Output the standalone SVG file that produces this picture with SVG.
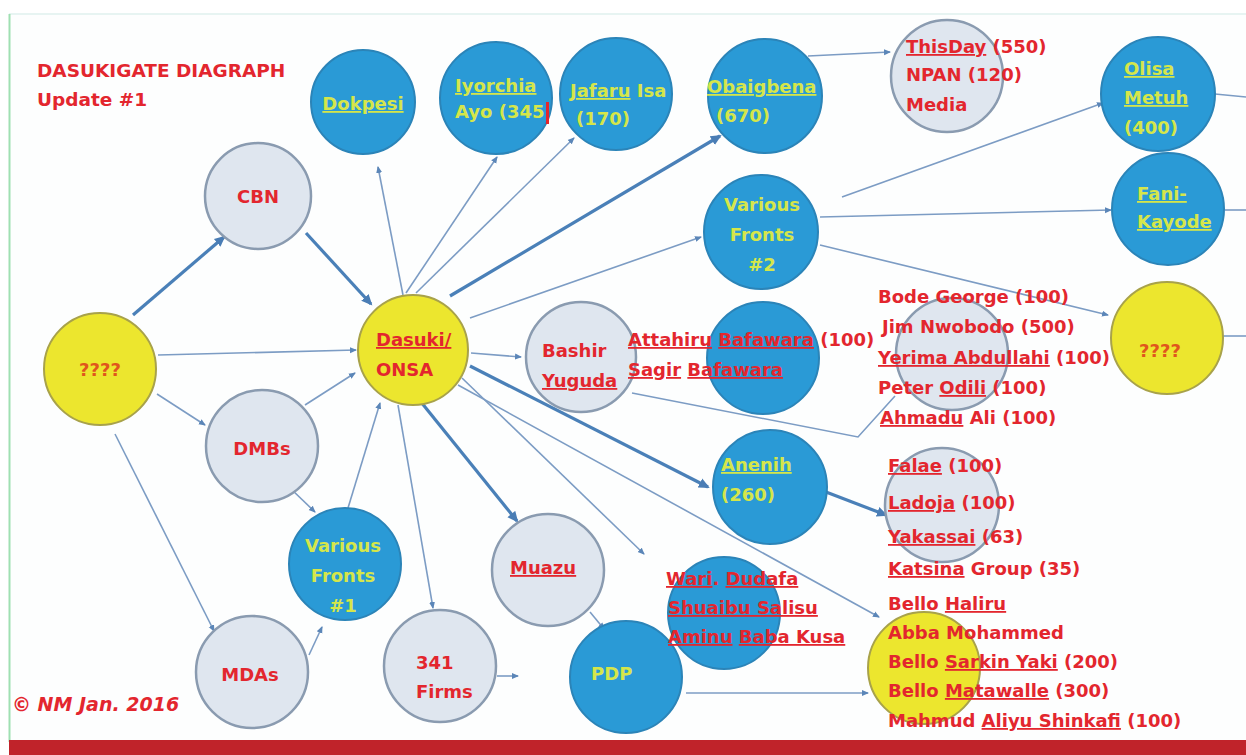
<svg xmlns="http://www.w3.org/2000/svg" width="1246" height="755" viewBox="0 0 1246 755">
<defs>
<marker id="ah" markerWidth="8" markerHeight="8" refX="6" refY="4" orient="auto" markerUnits="userSpaceOnUse">
<path d="M0,1 L7,4 L0,7 Z" fill="#5b86b8"/>
</marker>
<marker id="ahb" markerWidth="12" markerHeight="12" refX="9" refY="6" orient="auto" markerUnits="userSpaceOnUse">
<path d="M0,1 L11,6 L0,11 Z" fill="#4a7db5"/>
</marker>
</defs>
<style>
.lt{fill:#dfe6ef;stroke:#8a9bb0;stroke-width:2.5}
.bl{fill:#2a9ad6;stroke:#2b84b8;stroke-width:2}
.ye{fill:#ece62e;stroke:#a8a24a;stroke-width:2}
text{font-family:"DejaVu Sans","Open Sans",sans-serif;font-weight:bold;font-size:18px}
.r{fill:#e3262e}
.y{fill:#d5e64a}
.q{fill:#e0561c}
.c{text-anchor:middle}
.u{text-decoration:underline}
.e{fill:none;stroke:#7c9cc4;stroke-width:1.6;marker-end:url(#ah)}
.t{fill:none;stroke:#4a80b8;stroke-width:3.2;marker-end:url(#ahb)}
.n{fill:none;stroke:#7c9cc4;stroke-width:1.6}
</style>
<rect x="0" y="0" width="1246" height="755" fill="#ffffff"/>
<rect x="9" y="14" width="1237" height="726" fill="#fdfefe"/>
<line x1="9" y1="14" x2="1246" y2="14" stroke="#dff1ee" stroke-width="1.5"/>
<line x1="9.5" y1="14" x2="9.5" y2="742" stroke="#9fe0b2" stroke-width="2"/>
<rect x="9" y="740" width="1237" height="15" fill="#c0232a"/>

<g id="connectors">
<path class="t" d="M133,315 L224,237"/>
<path class="t" d="M306,233 L371,304"/>
<path class="e" d="M158,355 L356,350"/>
<path class="e" d="M157,394 L205,425"/>
<path class="e" d="M115,434 L214,631"/>
<path class="e" d="M305,405 L355,373"/>
<path class="e" d="M290,488 L315,512"/>
<path class="e" d="M309,655 L322,627"/>
<path class="e" d="M348,508 L380,403"/>
<path class="e" d="M403,295 L378,167"/>
<path class="e" d="M406,293 L497,157"/>
<path class="e" d="M416,293 L574,138"/>
<path class="t" d="M450,296 L720,136"/>
<path class="e" d="M470,318 L701,237"/>
<path class="e" d="M471,353 L521,357"/>
<path class="t" d="M470,366 L708,487"/>
<path class="e" d="M462,378 L644,554"/>
<path class="e" d="M458,385 L879,617"/>
<path class="t" d="M421,402 L517,521"/>
<path class="e" d="M398,405 L433,608"/>
<path class="n" d="M632,393 L858,437 L895,396"/>
<path class="t" d="M826,492 L886,515"/>
<path class="e" d="M590,612 L604,629"/>
<path class="e" d="M497,676 L518,676"/>
<path class="e" d="M686,693 L868,693"/>
<path class="e" d="M808,56 L890,52"/>
<path class="e" d="M842,197 L1103,103"/>
<path class="e" d="M820,217 L1111,210"/>
<path class="e" d="M820,245 L1108,315"/>
<path class="n" d="M1215,94 L1246,97"/>
<path class="n" d="M1225,210 L1246,210"/>
<path class="n" d="M1223,336 L1246,336"/>
</g>

<g id="title">
<text class="r" x="37" y="77" style="font-size:18.5px">DASUKIGATE DIAGRAPH</text>
<text class="r" x="37" y="106" style="font-size:18.5px">Update #1</text>
</g>
<g id="copyright">
<text class="r" x="12" y="711" style="font-style:italic;font-size:19px">© NM Jan. 2016</text>
</g>

<g id="n-cbn"><circle class="lt" cx="258" cy="196" r="53"/><text class="r c" x="258" y="203">CBN</text></g>
<g id="n-unknown-left"><circle class="ye" cx="100" cy="369" r="56"/><text class="q c" x="100" y="376">????</text></g>
<g id="n-dmbs"><circle class="lt" cx="262" cy="446" r="56"/><text class="r c" x="262" y="455">DMBs</text></g>
<g id="n-mdas"><circle class="lt" cx="252" cy="672" r="56"/><text class="r c" x="250" y="681">MDAs</text></g>
<g id="n-vf1"><circle class="bl" cx="345" cy="564" r="56"/>
<text class="y c" x="343" y="552">Various</text><text class="y c" x="343" y="582">Fronts</text><text class="y c" x="343" y="612">#1</text></g>
<g id="n-dokpesi"><circle class="bl" cx="363" cy="102" r="52"/><text class="y c" x="363" y="110"><tspan class="u">Dokpesi</tspan></text></g>
<g id="n-dasuki"><circle class="ye" cx="413" cy="350" r="55"/>
<text class="r" x="376" y="346"><tspan class="u">Dasuki/</tspan></text><text class="r" x="376" y="376">ONSA</text></g>
<g id="n-iyorchia"><circle class="bl" cx="496" cy="98" r="56"/>
<text class="y" x="455" y="92"><tspan class="u">Iyorchia</tspan></text><text class="y" x="455" y="118">Ayo (345</text>
<rect x="546" y="102" width="3" height="22" fill="#e3262e"/></g>
<g id="n-jafaru"><circle class="bl" cx="616" cy="94" r="56"/>
<text class="y" x="570" y="97"><tspan class="u">Jafaru</tspan> Isa</text><text class="y" x="576" y="125">(170)</text></g>
<g id="n-obaigbena"><circle class="bl" cx="765" cy="96" r="57"/>
<text class="y" x="707" y="93"><tspan class="u">Obaigbena</tspan></text><text class="y" x="716" y="122">(670)</text></g>
<g id="n-media"><circle class="lt" cx="947" cy="76" r="56"/>
<text class="r" x="906" y="53"><tspan class="u">ThisDay</tspan> (550)</text><text class="r" x="906" y="81">NPAN (120)</text><text class="r" x="906" y="111">Media</text></g>
<g id="n-olisa"><circle class="bl" cx="1158" cy="94" r="57"/>
<text class="y" x="1124" y="75"><tspan class="u">Olisa</tspan></text><text class="y" x="1124" y="104"><tspan class="u">Metuh</tspan></text><text class="y" x="1124" y="134">(400)</text></g>
<g id="n-fani"><circle class="bl" cx="1168" cy="209" r="56"/>
<text class="y" x="1137" y="200"><tspan class="u">Fani-</tspan></text><text class="y" x="1137" y="228"><tspan class="u">Kayode</tspan></text></g>
<g id="n-vf2"><circle class="bl" cx="761" cy="232" r="57"/>
<text class="y c" x="762" y="211">Various</text><text class="y c" x="762" y="241">Fronts</text><text class="y c" x="762" y="271">#2</text></g>
<g id="n-unknown-right"><circle class="ye" cx="1167" cy="338" r="56"/><text class="q c" x="1160" y="357">????</text></g>
<g id="n-bashir"><circle class="lt" cx="581" cy="357" r="55"/>
<text class="r" x="542" y="357">Bashir</text><text class="r" x="542" y="387"><tspan class="u">Yuguda</tspan></text></g>
<g id="n-bafawara"><circle class="bl" cx="763" cy="358" r="56"/>
<text class="r" x="628" y="346"><tspan class="u">Attahiru</tspan> <tspan class="u">Bafawara</tspan> (100)</text>
<text class="r" x="628" y="376"><tspan class="u">Sagir</tspan> <tspan class="u">Bafawara</tspan></text></g>
<g id="n-pdp-list"><circle class="lt" cx="952" cy="354" r="56"/>
<text class="r" x="878" y="303">Bode George (100)</text>
<text class="r" x="882" y="333">Jim Nwobodo (500)</text>
<text class="r" x="878" y="364"><tspan class="u">Yerima Abdullahi</tspan> (100)</text>
<text class="r" x="878" y="394">Peter <tspan class="u">Odili</tspan> (100)</text>
<text class="r" x="880" y="424"><tspan class="u">Ahmadu</tspan> Ali (100)</text></g>
<g id="n-anenih"><circle class="bl" cx="770" cy="487" r="57"/>
<text class="y" x="721" y="471"><tspan class="u">Anenih</tspan></text><text class="y" x="721" y="501">(260)</text></g>
<g id="n-falae"><circle class="lt" cx="942" cy="505" r="57"/>
<text class="r" x="888" y="472"><tspan class="u">Falae</tspan> (100)</text>
<text class="r" x="888" y="509"><tspan class="u">Ladoja</tspan> (100)</text>
<text class="r" x="888" y="543"><tspan class="u">Yakassai</tspan> (63)</text>
<text class="r" x="888" y="575"><tspan class="u">Katsina</tspan> Group (35)</text></g>
<g id="n-bello"><circle class="ye" cx="924" cy="668" r="56"/>
<text class="r" x="888" y="610">Bello <tspan class="u">Haliru</tspan></text>
<text class="r" x="888" y="639">Abba Mohammed</text>
<text class="r" x="888" y="668">Bello <tspan class="u">Sarkin Yaki</tspan> (200)</text>
<text class="r" x="888" y="697">Bello <tspan class="u">Matawalle</tspan> (300)</text>
<text class="r" x="888" y="727">Mahmud <tspan class="u">Aliyu Shinkafi</tspan> (100)</text></g>
<g id="n-muazu"><circle class="lt" cx="548" cy="570" r="56"/><text class="r" x="510" y="574"><tspan class="u">Muazu</tspan></text></g>
<g id="n-firms"><circle class="lt" cx="440" cy="666" r="56"/>
<text class="r" x="416" y="669">341</text><text class="r" x="416" y="698">Firms</text></g>
<g id="n-pdp"><circle class="bl" cx="626" cy="677" r="56"/><text class="y" x="591" y="680">PDP</text></g>
<g id="n-wari"><circle class="bl" cx="724" cy="613" r="56"/>
<text class="r" x="666" y="585"><tspan class="u">Wari</tspan>. <tspan class="u">Dudafa</tspan></text>
<text class="r" x="668" y="614"><tspan class="u">Shuaibu Salisu</tspan></text>
<text class="r" x="668" y="643"><tspan class="u">Aminu</tspan> <tspan class="u">Baba Kusa</tspan></text></g>
</svg>
